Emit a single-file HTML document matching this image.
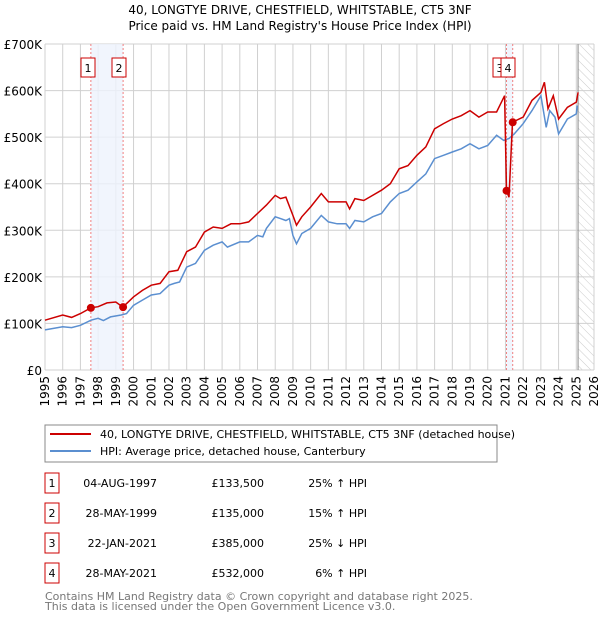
<!DOCTYPE html>
<html><head><meta charset="utf-8">
<style>
body{margin:0;background:#fff;font-family:"DejaVu Sans","Liberation Sans",sans-serif;}
#wrap{position:relative;width:600px;height:620px;overflow:hidden;}
svg text{font-family:"DejaVu Sans","Liberation Sans",sans-serif;}
</style></head>
<body>
<div id="wrap">
<svg id="chart" width="600" height="620">
<defs>
<pattern id="hatch" width="6" height="6" patternUnits="userSpaceOnUse" patternTransform="rotate(-45)">
<line x1="0" y1="0" x2="0" y2="6" stroke="#ccc" stroke-width="1"/></pattern>
</defs>
<text x="300" y="14" text-anchor="middle" font-size="12">40, LONGTYE DRIVE, CHESTFIELD, WHITSTABLE, CT5 3NF</text>
<text x="300" y="30" text-anchor="middle" font-size="12">Price paid vs. HM Land Registry's House Price Index (HPI)</text>
<g id="grid"></g><g id="bands"></g><g id="series"></g><g id="marks"></g><g id="axes"></g>
<g>
<rect x="45" y="425" width="452" height="37" fill="#fff" stroke="#888"/>
<line x1="50" y1="434" x2="91" y2="434" stroke="#cc0000" stroke-width="2"/>
<text x="100" y="438" font-size="11">40, LONGTYE DRIVE, CHESTFIELD, WHITSTABLE, CT5 3NF (detached house)</text>
<line x1="50" y1="451" x2="91" y2="451" stroke="#5b8fd0" stroke-width="2"/>
<text x="100" y="455" font-size="11">HPI: Average price, detached house, Canterbury</text>
</g>
<g id="table"></g>
<text x="45" y="600" font-size="11" fill="#777">Contains HM Land Registry data © Crown copyright and database right 2025.</text>
<text x="45" y="610" font-size="11" fill="#777">This data is licensed under the Open Government Licence v3.0.</text>
</svg>
</div>
<script>
var hpiYears=[1995,1996,1996.5,1997,1997.6,1998,1998.3,1998.7,1999.3,1999.6,2000,2000.5,2001,2001.5,2002,2002.3,2002.6,2003,2003.5,2004,2004.5,2005,2005.3,2006,2006.5,2007,2007.3,2007.5,2008,2008.3,2008.6,2008.8,2009,2009.2,2009.5,2010,2010.6,2011,2011.5,2012,2012.2,2012.5,2013,2013.5,2014,2014.5,2015,2015.5,2016,2016.5,2017,2017.5,2018,2018.5,2019,2019.5,2020,2020.5,2020.9,2021.2,2021.5,2022,2022.5,2023,2023.3,2023.5,2023.8,2024,2024.5,2025,2025.05];
var hpiValues=[86,93,91,96,107,111,106,114,118,121,139,150,161,164,182,186,189,221,229,257,268,275,264,275,275,289,286,304,329,325,321,325,289,271,293,304,332,318,314,314,304,321,318,329,336,361,379,386,404,421,454,461,468,475,486,475,482,504,493,497,507,529,557,589,521,557,543,507,539,550,568];
var ppYears=[1995,1996,1996.5,1997,1997.59,1998,1998.5,1999,1999.4,2000,2000.5,2001,2001.5,2002,2002.5,2003,2003.5,2004,2004.5,2005,2005.5,2006,2006.5,2007,2007.5,2008,2008.3,2008.6,2009,2009.2,2009.5,2010,2010.6,2011,2011.5,2012,2012.2,2012.5,2013,2013.5,2014,2014.5,2015,2015.5,2016,2016.5,2017,2017.5,2018,2018.5,2019,2019.5,2020,2020.5,2020.95,2021.06,2021.2,2021.4,2022,2022.5,2023,2023.2,2023.4,2023.7,2024,2024.5,2025,2025.1];
var ppValues=[107,118,113,121,133.5,136,144,146,135,157,171,182,186,211,214,254,264,296,307,304,314,314,318,336,354,375,368,371,332,311,329,350,379,361,361,361,346,368,364,375,386,400,432,439,461,479,518,529,539,546,557,543,554,554,589,385,371,532,543,579,596,618,561,589,539,564,575,596];
var saleLabels=["1","2","3","4"];
var saleYears=[1997.59,1999.41,2021.06,2021.41];
var saleValues=[133.5,135,385,532];
var saleDates=["04-AUG-1997","28-MAY-1999","22-JAN-2021","28-MAY-2021"];
var salePrices=["£133,500","£135,000","£385,000","£532,000"];
var saleDiffs=["25% ↑ HPI","15% ↑ HPI","25% ↓ HPI","6% ↑ HPI"];
var yTicks=[0,100,200,300,400,500,600,700];
var yTickLabels=["£0","£100K","£200K","£300K","£400K","£500K","£600K","£700K"];
var xTicks=[1995,1996,1997,1998,1999,2000,2001,2002,2003,2004,2005,2006,2007,2008,2009,2010,2011,2012,2013,2014,2015,2016,2017,2018,2019,2020,2021,2022,2023,2024,2025,2026];

var NS="http://www.w3.org/2000/svg";
var X0=45,X1=594,Y0=370,Y1=44;
function sx(y){return X0+(y-1995)/31*(X1-X0);}
function sy(v){return Y0-v/700*(Y0-Y1);}
function mk(tag,attrs,parent){var e=document.createElementNS(NS,tag);for(var k in attrs)e.setAttribute(k,attrs[k]);parent.appendChild(e);return e;}
var grid=document.getElementById('grid'),bands=document.getElementById('bands'),series=document.getElementById('series'),marks=document.getElementById('marks'),axes=document.getElementById('axes'),table=document.getElementById('table');

// hatch future region
var h=mk('rect',{x:sx(2025.1),y:Y1,width:X1-sx(2025.1),height:Y0-Y1,fill:'url(#hatch)'},grid);


yTicks.forEach(function(t,i){
 var l=mk('line',{x1:X0,x2:X1,y1:sy(t),y2:sy(t),stroke:'#d0d0d0'},grid);
 
 
 var tx=mk('text',{x:X0-3,y:sy(t)+5,'text-anchor':'end','font-size':'12'},axes);
 tx.textContent=yTickLabels[i];
 
 
});
xTicks.forEach(function(t){
 var l=mk('line',{x1:sx(t),x2:sx(t),y1:Y1,y2:Y0,stroke:'#d0d0d0'},grid);
 
 
 var tx=mk('text',{x:0,y:0,'text-anchor':'end','font-size':'12',transform:'translate('+(sx(t)+4)+','+(Y0+6)+') rotate(-90)'},axes);
 tx.textContent=t;
 
 
});
var vl=mk('line',{x1:sx(2025.1),x2:sx(2025.1),y1:Y1,y2:Y0,stroke:'#888'},grid);


// bands
[[0,1],[2,3]].forEach(function(p){
 var r=mk('rect',{x:sx(saleYears[p[0]]),y:Y1,width:sx(saleYears[p[1]])-sx(saleYears[p[0]]),height:Y0-Y1,fill:'#eef3fc',opacity:0.8},bands);
 
 
});
saleYears.forEach(function(y){
 var l=mk('line',{x1:sx(y),x2:sx(y),y1:Y1,y2:Y0,stroke:'#f08080','stroke-dasharray':'2,2'},bands);
 
 
});
function path(xs,vs){return xs.map(function(x,i){return (i?'L':'M')+sx(x).toFixed(1)+','+sy(vs[i]).toFixed(1);}).join('');}
var hp=mk('path',{d:path(hpiYears,hpiValues),fill:'none',stroke:'#5b8fd0','stroke-width':1.5},series);


var pp=mk('path',{d:path(ppYears,ppValues),fill:'none',stroke:'#cc0000','stroke-width':1.5},series);


var boxX=[88,119,500,508];
saleYears.forEach(function(y,i){
 var c=mk('circle',{cx:sx(y),cy:sy(saleValues[i]),r:4,fill:'#cc0000'},marks);
 
 
 var bx=sx(y)-21+ (i==0?3:i==1?0:i==2?-5:-10);
 if(i<2) bx=sx(y)-19;
 var r=mk('rect',{x:boxX[i]-7,y:58,width:14,height:19,fill:'#fff',stroke:'#cc0000'},marks);
 
 
 var t=mk('text',{x:boxX[i],y:72,'text-anchor':'middle','font-size':'11'},marks);
 t.textContent=saleLabels[i];
 
 
});
var rowY=[483,513,543,573];
saleLabels.forEach(function(s,i){
 var y=rowY[i];
 var r=mk('rect',{x:45,y:y-10,width:14,height:20,fill:'#fff',stroke:'#cc0000'},table);
 
 
 var t=mk('text',{x:52,y:y+4,'text-anchor':'middle','font-size':'11'},table);
 t.textContent=s;
 
 
 var d=mk('text',{x:157,y:y+4,'text-anchor':'end','font-size':'11'},table);
 d.textContent=saleDates[i];
 
 
 var p=mk('text',{x:264,y:y+4,'text-anchor':'end','font-size':'11'},table);
 p.textContent=salePrices[i];
 
 
 var h2=mk('text',{x:367,y:y+4,'text-anchor':'end','font-size':'11'},table);
 h2.textContent=saleDiffs[i];
 
 
});
</script>
</body></html>
